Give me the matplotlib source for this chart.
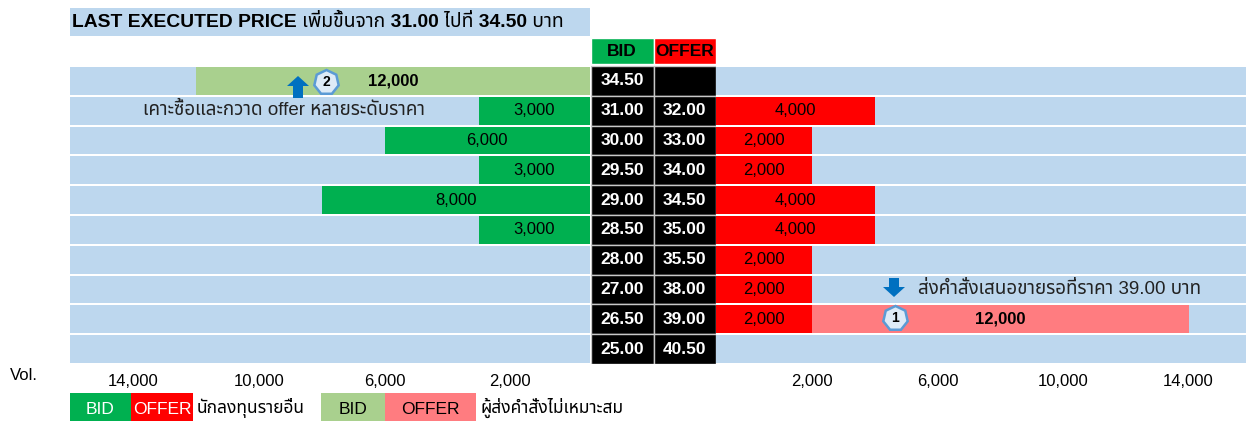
import matplotlib
matplotlib.use("Agg")
import numpy as np
import matplotlib.pyplot as plt
from matplotlib import font_manager
from matplotlib.ft2font import FT2Font
from matplotlib.patches import Rectangle, Polygon
from matplotlib.lines import Line2D

# ---------------- data ----------------
rows = list(range(10))
bid_prices = ["34.50", "31.00", "30.00", "29.50", "29.00", "28.50", "28.00", "27.00", "26.50", "25.00"]
offer_prices = ["", "32.00", "33.00", "34.00", "34.50", "35.00", "35.50", "38.00", "39.00", "40.50"]
bid_vol = [0, 3000, 6000, 3000, 8000, 3000, 0, 0, 0, 0]
offer_vol = [0, 4000, 2000, 2000, 4000, 4000, 2000, 2000, 2000, 0]
bad_bid_row, bad_bid_vol = 0, 12000
bad_offer_row, bad_offer_vol = 8, 12000
vol_ticks = [2000, 6000, 10000, 14000]
title = "LAST EXECUTED PRICE เพิ่มขึ้นจาก 31.00 ไปที่ 34.50 บาท"
note_buy = "เคาะซื้อและกวาด offer หลายระดับราคา"
note_sell = "ส่งคำสั่งเสนอขายรอที่ราคา 39.00 บาท"
legend_other = "นักลงทุนรายอื่น"
legend_bad = "ผู้ส่งคำสั่งไม่เหมาะสม"

# ---------------- fonts ----------------
def thai_families():
    pref = ["Noto Sans Thai", "Noto Sans Thai UI", "Loma", "Garuda", "Tahoma",
            "Leelawadee UI", "Sarabun", "Norasi", "Kinnari", "Waree", "Umpush"]
    found = []
    for f in font_manager.fontManager.ttflist:
        try:
            if FT2Font(f.fname).get_char_index(ord("ก")):
                if f.name not in found:
                    found.append(f.name)
        except Exception:
            pass
    ordered = [p for p in pref if p in found] + [f for f in found if f not in pref]
    return ordered[:1]

names = {f.name for f in font_manager.fontManager.ttflist}
thai = thai_families()
FAM = ["Liberation Sans"] + thai + ["DejaVu Sans"]
NARROW = (["Liberation Sans Narrow"] if "Liberation Sans Narrow" in names else []) + FAM
plt.rcParams["font.family"] = FAM

# ---------------- colours ----------------
BLUE = "#BDD7EE"
GREEN = "#00B050"
RED = "#FF0000"
LGREEN = "#A9D08E"
PINK = "#FF7C80"

W, H = 1246, 421
fig = plt.figure(figsize=(W / 100, H / 100), dpi=100)

def fx(x):
    return x / W

def fy(y):
    return 1 - y / H

top, bot = 66, 364
rowh = (bot - top) / 10.0
BH = 0.93

# volume scale: bars begin with a small fixed lead-in before the linear part
def make_scale(c, d=1.0):
    def fwd(v):
        v = np.asarray(v, dtype=float)
        return np.where(v <= d, v * (1 + c / d), v + c)
    def inv(u):
        u = np.asarray(u, dtype=float)
        return np.where(u <= d + c, u / (1 + c / d), u - c)
    return fwd, inv

PX_PER_UNIT = 0.0314
cL, cR = 17 / PX_PER_UNIT, 33 / PX_PER_UNIT
fwdL, invL = make_scale(cL)
fwdR, invR = make_scale(cR)

axL = fig.add_axes([fx(70), fy(bot), fx(590) - fx(70), (bot - top) / H])
axR = fig.add_axes([fx(716), fy(bot), fx(1246) - fx(716), (bot - top) / H])
ctop = top - rowh
axC = fig.add_axes([fx(591), fy(bot), fx(716) - fx(591), (bot - ctop) / H])

for ax in (axL, axR, axC):
    for s in ax.spines.values():
        s.set_visible(False)
    ax.set_yticks([])

axL.set_xscale("function", functions=(fwdL, invL))
axR.set_xscale("function", functions=(fwdR, invR))
axL.set_xlim(float(invL(520 / PX_PER_UNIT)), 0)
axR.set_xlim(0, float(invR(530 / PX_PER_UNIT)))
for ax in (axL, axR):
    ax.set_ylim(9.5, -0.5)
    for r in rows:
        ax.axhspan(r - BH / 2, r + BH / 2, color=BLUE, lw=0, zorder=0)
    ax.set_xticks(vol_ticks)
    ax.set_xticklabels([f"{v:,}" for v in vol_ticks], fontsize=12)
    ax.tick_params(axis="x", length=0, pad=7)
    ax.minorticks_off()

def mid(fwd, inv, a, b):
    return float(inv((fwd(a) + fwd(b)) / 2))

# left: bid bars
axL.barh(rows, bid_vol, height=BH, color=GREEN, zorder=2)
for r, v in zip(rows, bid_vol):
    if v:
        axL.text(mid(fwdL, invL, 0, v), r, f"{v:,}", ha="center", va="center", fontsize=12, zorder=3)
axL.barh([bad_bid_row], [bad_bid_vol], height=BH, color=LGREEN, zorder=2)
axL.text(mid(fwdL, invL, 0, bad_bid_vol), bad_bid_row, f"{bad_bid_vol:,}", ha="center",
         va="center", fontsize=12, fontweight="bold", zorder=3)

# right: offer bars
axR.barh(rows, offer_vol, height=BH, color=RED, zorder=2)
for r, v in zip(rows, offer_vol):
    if v:
        axR.text(mid(fwdR, invR, 0, v), r, f"{v:,}", ha="center", va="center", fontsize=12, zorder=3)
base = offer_vol[bad_offer_row]
axR.barh([bad_offer_row], [bad_offer_vol], left=[base], height=BH, color=PINK, zorder=2)
axR.text(mid(fwdR, invR, base, base + bad_offer_vol), bad_offer_row, f"{bad_offer_vol:,}",
         ha="center", va="center", fontsize=12, fontweight="bold", zorder=3)

# centre price ladder
axC.set_xlim(0, 2)
axC.set_ylim(9.5, -1.5)
axC.set_xticks([])
axC.barh(rows, [1] * 10, left=0, height=1, color="black", edgecolor="#c8c8c8", lw=1)
axC.barh(rows, [1] * 10, left=1, height=1, color="black", edgecolor="#c8c8c8", lw=1)
for r, b, o in zip(rows, bid_prices, offer_prices):
    axC.text(0.5, r, b, ha="center", va="center", color="white", fontsize=12.5, fontweight="bold")
    if o:
        axC.text(1.5, r, o, ha="center", va="center", color="white", fontsize=12.5, fontweight="bold")
hh = 26 / rowh
axC.barh([-1], [1], left=0, height=hh, color=GREEN, edgecolor="white", lw=1)
axC.barh([-1], [1], left=1, height=hh, color=RED, edgecolor="white", lw=1)
axC.text(0.5, -1, "BID", ha="center", va="center", fontsize=12.5, fontweight="bold")
axC.text(1.5, -1, "OFFER", ha="center", va="center", fontsize=12.5, fontweight="bold")

# title box
fig.patches.append(Rectangle((fx(70), fy(36)), fx(590) - fx(70), (36 - 8) / H,
                             transform=fig.transFigure, color=BLUE, lw=0, zorder=0))
fig.text(fx(72), fy(22), title, ha="left", va="center", fontsize=13.9, fontweight="bold",
         family=NARROW)

# notes
fig.text(fx(284), fy(110), note_buy, ha="center", va="center", fontsize=13.5, color="#222222")
fig.text(fx(918), fy(289), note_sell, ha="left", va="center", fontsize=13.5, color="#222222")

def arrow(cx, y0, y1, hw=11, sw=5, hl=10, up=True):
    # y0 tip, y1 tail (pixels)
    s = 1 if up else -1
    pts = [(cx, y0), (cx + hw, y0 + s * hl), (cx + sw, y0 + s * hl), (cx + sw, y1),
           (cx - sw, y1), (cx - sw, y0 + s * hl), (cx - hw, y0 + s * hl)]
    fig.patches.append(Polygon([(fx(x), fy(y)) for x, y in pts], closed=True,
                               transform=fig.transFigure, color="#0070C0", lw=0, zorder=5))

arrow(298, 76, 98, up=True)
arrow(894, 297, 278, up=False)

def badge(cx, cy, label):
    fig.add_artist(Line2D([fx(cx)], [fy(cy)], marker=(7, 0, 0), markersize=18,
                          markerfacecolor="#DEEBF7", markeredgecolor="#5B9BD5",
                          markeredgewidth=1.8, transform=fig.transFigure, zorder=6))
    fig.text(fx(cx), fy(cy), label, ha="center", va="center", fontsize=10,
             fontweight="bold", zorder=7)

badge(326, 82, "2")
badge(895, 318, "1")

# Vol. label
fig.text(fx(10), fy(376), "Vol.", ha="left", va="center", fontsize=12)

# legend
legend_groups = [
    ([("BID", 70, 131, GREEN, "white"), ("OFFER", 131, 193, RED, "white")], legend_other, 197),
    ([("BID", 321, 385, LGREEN, "black"), ("OFFER", 385, 476, PINK, "black")], legend_bad, 481),
]
for boxes, lab, lx in legend_groups:
    for txt, x0, x1, col, tc in boxes:
        fig.patches.append(Rectangle((fx(x0), fy(421)), fx(x1) - fx(x0), (421 - 393) / H,
                                     transform=fig.transFigure, color=col, lw=0))
        fig.text(fx((x0 + x1) / 2), fy(409), txt, ha="center", va="center", fontsize=12.5, color=tc)
    fig.text(fx(lx), fy(408), lab, ha="left", va="center", fontsize=12.5)

fig.savefig("out.png", dpi=100)
